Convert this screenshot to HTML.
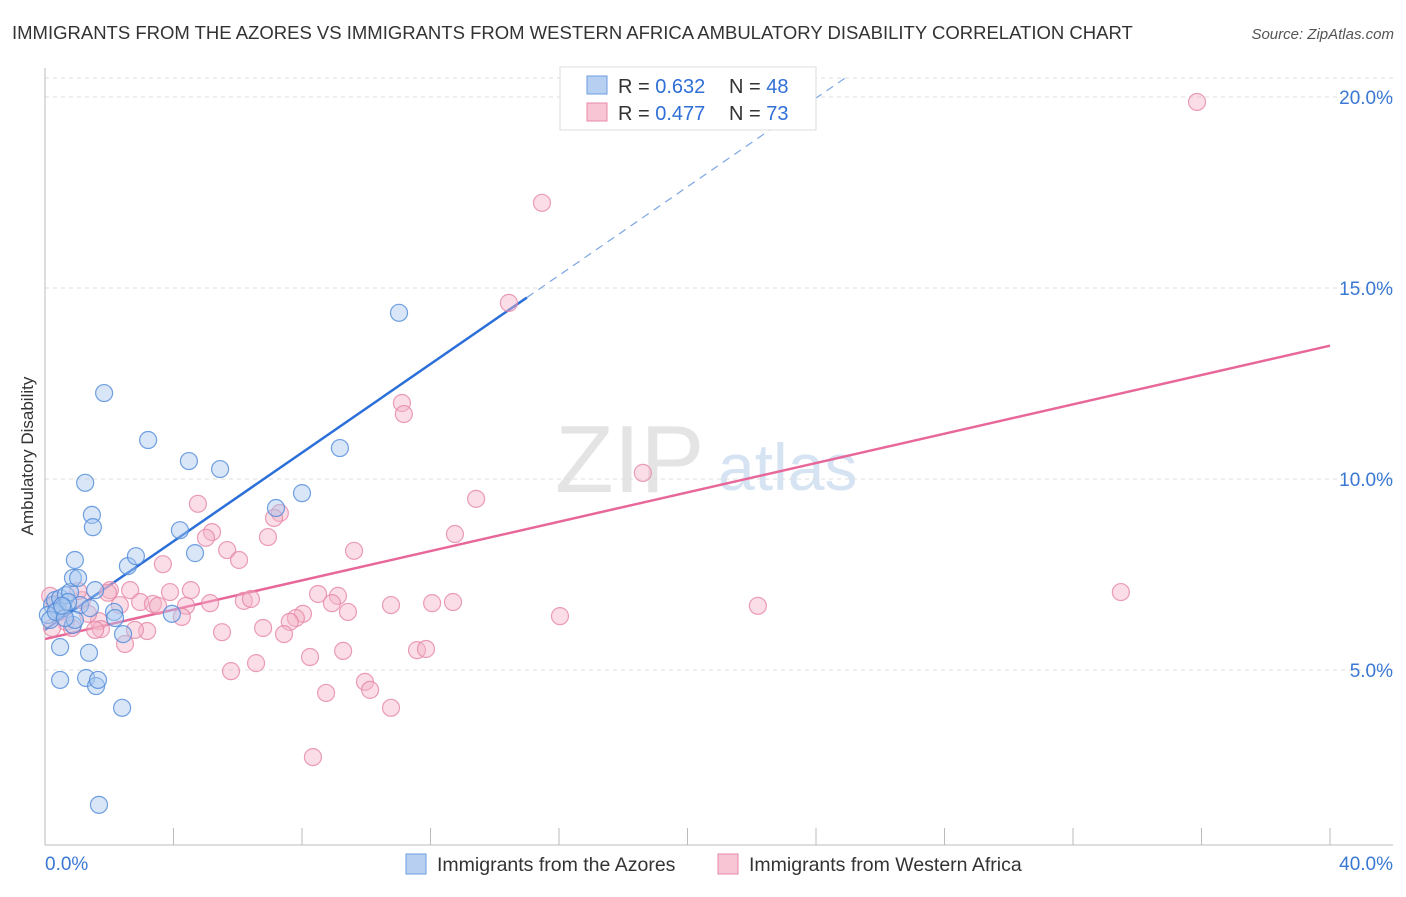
<!DOCTYPE html>
<html><head><meta charset="utf-8"><style>
body{margin:0;background:#fff;font-family:"Liberation Sans",sans-serif;}
svg text{font-family:"Liberation Sans",sans-serif;}
</style></head><body>
<svg id="chart" width="1406" height="892" xmlns="http://www.w3.org/2000/svg">
<text x="12" y="39" font-size="18.5" fill="#333">IMMIGRANTS FROM THE AZORES VS IMMIGRANTS FROM WESTERN AFRICA AMBULATORY DISABILITY CORRELATION CHART</text>
<text x="1394" y="39" font-size="15" fill="#555" text-anchor="end" font-style="italic">Source: ZipAtlas.com</text>
<text x="33" y="456" font-size="17" fill="#333" text-anchor="middle" transform="rotate(-90 33 456)">Ambulatory Disability</text>
<text x="555" y="492" font-size="96" fill="#e4e4e4" font-family="Liberation Serif">ZIP</text>
<text x="718" y="490" font-size="66" fill="#d6e3f3">atlas</text>
<g id="grid"></g><g id="axes"></g><g id="lines"></g><g id="pts"></g>
<g>
<rect x="560" y="67" width="256" height="63" fill="#fff" stroke="#ddd"/>
<rect x="587" y="76" width="20" height="18" fill="#b7d0f2" stroke="#6b9de0"/>
<rect x="587" y="103" width="20" height="18" fill="#f8c5d5" stroke="#e88aab"/>
<text x="618" y="93" font-size="20" fill="#333">R = <tspan fill="#2f6fd6">0.632</tspan></text>
<text x="729" y="93" font-size="20" fill="#333">N = <tspan fill="#2f6fd6">48</tspan></text>
<text x="618" y="120" font-size="20" fill="#333">R = <tspan fill="#2f6fd6">0.477</tspan></text>
<text x="729" y="120" font-size="20" fill="#333">N = <tspan fill="#2f6fd6">73</tspan></text>
</g>
<g>
<rect x="406" y="854" width="20" height="20" fill="#b7d0f2" stroke="#6b9de0"/>
<text x="437" y="871" font-size="19.5" fill="#333">Immigrants from the Azores</text>
<rect x="718" y="854" width="20" height="20" fill="#f8c5d5" stroke="#e88aab"/>
<text x="749" y="871" font-size="19.5" fill="#333">Immigrants from Western Africa</text>
</g>
</svg>
<script>
const blueX=[0.22,0.31,0.40,0.47,0.56,0.65,0.78,0.87,0.93,1.03,1.09,1.25,1.40,1.46,1.49,1.56,0.47,0.47,1.37,1.28,1.59,1.65,2.40,1.68,1.84,0.87,0.93,2.15,2.18,2.43,2.58,2.83,3.21,3.95,4.20,4.48,4.67,5.45,7.19,8.00,9.18,11.02,0.09,0.16,0.34,0.62,0.72,0.53];
const blueY=[6.70,6.83,6.57,6.88,6.62,6.96,7.04,7.41,7.88,7.41,6.70,9.90,6.62,9.06,8.74,7.09,5.60,4.74,5.45,4.79,4.58,4.74,4.01,1.47,12.25,6.18,6.31,6.52,6.36,5.94,7.72,7.98,11.02,6.47,8.66,10.47,8.06,10.26,9.24,9.63,10.81,14.35,6.44,6.31,6.52,6.36,6.78,6.68];
const pinkX=[35.86,15.47,14.44,11.11,11.17,18.61,13.42,4.76,7.31,7.13,12.76,5.20,5.01,6.94,5.67,9.62,6.04,3.67,33.49,2.02,2.65,3.89,4.54,8.50,9.12,2.96,3.36,3.52,4.39,5.14,6.19,6.41,8.93,10.77,12.05,12.70,22.19,9.43,8.03,7.81,7.62,4.26,16.03,1.68,1.74,5.51,3.18,2.80,6.79,7.44,2.49,9.28,11.58,11.86,8.25,6.57,5.79,9.96,10.12,8.75,10.77,8.34,0.16,0.31,0.47,0.65,0.84,1.15,1.34,1.56,1.96,0.22,1.03,2.33];
const pinkY=[19.87,17.23,14.61,11.99,11.70,10.16,9.48,9.35,9.11,8.98,8.56,8.61,8.46,8.48,8.14,8.12,7.88,7.77,7.04,7.09,7.09,7.04,7.09,6.99,6.94,6.78,6.73,6.68,6.68,6.75,6.81,6.86,6.75,6.70,6.75,6.78,6.68,6.52,6.47,6.36,6.26,6.39,6.41,6.28,6.07,5.99,6.02,6.05,6.10,5.94,5.68,5.50,5.52,5.55,5.34,5.18,4.97,4.69,4.48,4.40,4.01,2.72,6.94,6.73,6.52,6.26,6.10,6.83,6.47,6.05,7.02,6.10,7.07,6.70];
const blueFit=[6.05,0.58];
const pinkFit=[5.81,0.192];
const yTicks=[5,10,15,20];
const yTickLabels=["5.0%","10.0%","15.0%","20.0%"];
const xTicks=[4,8,12,16,20,24,28,32,36,40];

const X=v=>45+v*32.125, Y=v=>861-v*38.2;
const NS="http://www.w3.org/2000/svg";
function mk(tag,attrs,parent){const e=document.createElementNS(NS,tag);for(const k in attrs)e.setAttribute(k,attrs[k]);document.getElementById(parent).appendChild(e);return e;}
yTicks.forEach((t,i)=>{
 let l=mk('line',{x1:45,x2:1393,y1:Y(t),y2:Y(t),stroke:'#ddd','stroke-dasharray':'4,4'},'grid');
 
 
 let tx=mk('text',{x:1393,y:Y(t)+7,'font-size':19,fill:'#3a78d4','text-anchor':'end'},'grid');
 tx.textContent=yTickLabels[i];
 
 
});
const topGrid=mk('line',{x1:45,x2:1393,y1:78,y2:78,stroke:'#ddd','stroke-dasharray':'4,4'},'grid');


const ya=mk('line',{x1:45,x2:45,y1:68,y2:845,stroke:'#bbb'},'axes');


const xa=mk('line',{x1:45,x2:1393,y1:845,y2:845,stroke:'#bbb'},'axes');


xTicks.forEach(t=>{let l=mk('line',{x1:X(t),x2:X(t),y1:828,y2:845,stroke:'#bbb'},'axes');
 
 });
const xl0=mk('text',{x:45,y:870,'font-size':19,fill:'#3a78d4'},'axes');xl0.textContent='0.0%';


const xl1=mk('text',{x:1393,y:870,'font-size':19,fill:'#3a78d4','text-anchor':'end'},'axes');xl1.textContent='40.0%';


function pts(xs,ys,fill,stroke,name){xs.forEach((x,i)=>{let c=mk('circle',{cx:X(x),cy:Y(ys[i]),r:8.5,fill:fill,'fill-opacity':0.45,stroke:stroke,'stroke-opacity':0.8,'stroke-width':1.2},'pts');
 
 });}
pts(pinkX,pinkY,'#f5b3c8','#e686a6','point-western-africa');
pts(blueX,blueY,'#a9c7ef','#4f8ad8','point-azores');
const bs=mk('line',{x1:X(0),y1:Y(blueFit[0]),x2:X(15),y2:Y(blueFit[0]+blueFit[1]*15),stroke:'#2b6fd8','stroke-width':2.5},'lines');


const xe=(20.5-blueFit[0])/blueFit[1];
const bd=mk('line',{x1:X(15),y1:Y(blueFit[0]+blueFit[1]*15),x2:X(xe),y2:Y(20.5),stroke:'#7aa6e4','stroke-width':1.2,'stroke-dasharray':'8,6'},'lines');


const pl=mk('line',{x1:X(0),y1:Y(pinkFit[0]),x2:X(40),y2:Y(pinkFit[0]+pinkFit[1]*40),stroke:'#e8679a','stroke-width':2.5},'lines');


</script>
</body></html>
